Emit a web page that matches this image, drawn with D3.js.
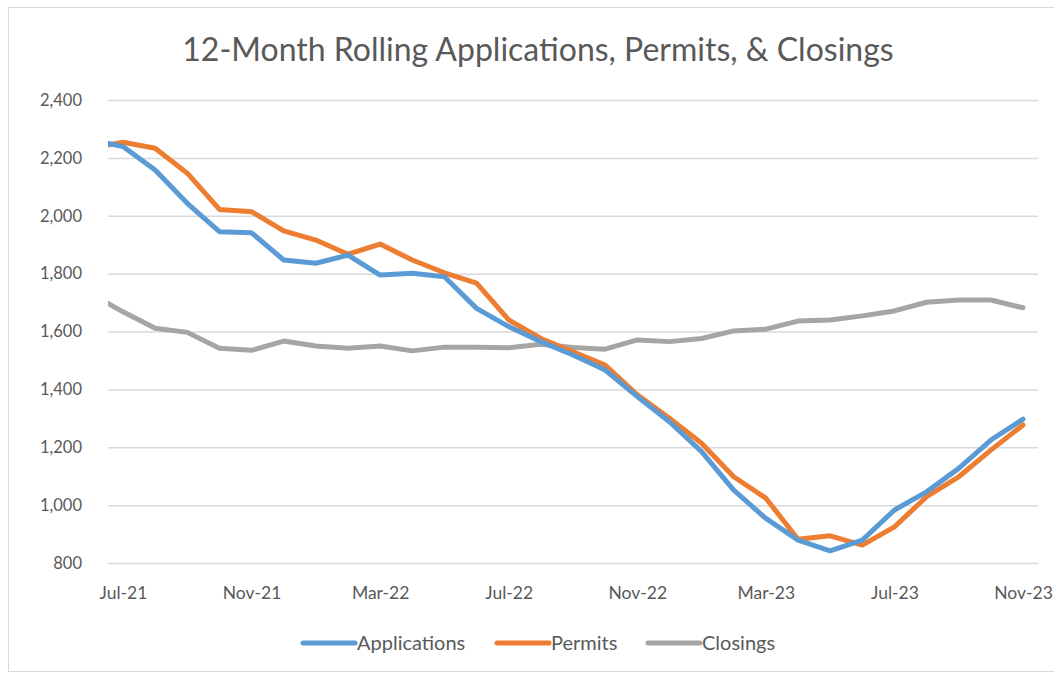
<!DOCTYPE html>
<html>
<head>
<meta charset="utf-8">
<script src="https://cdn.jsdelivr.net/npm/d3@7"></script>
<style>
  body { margin: 0; background: #fff; }
  svg { display: block; font-family: Lato, "Open Sans", sans-serif; }
</style>
</head>
<body>
<svg></svg>
<script>
var width = 1054;
var height = 677;

// months, Jun-21 sits just left of the plot edge and gets clipped
var months = ["Jun-21", "Jul-21", "Aug-21", "Sep-21", "Oct-21", "Nov-21", "Dec-21",
    "Jan-22", "Feb-22", "Mar-22", "Apr-22", "May-22", "Jun-22", "Jul-22", "Aug-22",
    "Sep-22", "Oct-22", "Nov-22", "Dec-22", "Jan-23", "Feb-23", "Mar-23", "Apr-23",
    "May-23", "Jun-23", "Jul-23", "Aug-23", "Sep-23", "Oct-23", "Nov-23"];
var applications = [2263, 2239, 2158, 2043, 1945, 1941, 1847, 1836, 1864, 1795,
    1801, 1789, 1680, 1617, 1565, 1519, 1467, 1375, 1288, 1185,
    1052, 954, 879, 842, 879, 983, 1046, 1127, 1225, 1297];
var permits = [2234, 2254, 2233, 2147, 2022, 2014, 1948, 1916, 1867, 1902,
    1847, 1803, 1767, 1640, 1576, 1530, 1484, 1381, 1300, 1214,
    1098, 1024, 882, 894, 862, 925, 1029, 1098, 1190, 1277];
var closings = [1730, 1668, 1611, 1597, 1542, 1535, 1567, 1550, 1542, 1550,
    1533, 1546, 1546, 1544, 1556, 1545, 1539, 1571, 1565, 1576,
    1602, 1608, 1636, 1640, 1654, 1671, 1701, 1709, 1709, 1682];
var tickLabels = ["Jul-21", "Nov-21", "Mar-22", "Jul-22", "Nov-22", "Mar-23", "Jul-23", "Nov-23"];
var yTicks = [800, 1000, 1200, 1400, 1600, 1800, 2000, 2200, 2400];

var series = [
    { name: "Applications", values: applications, color: "#5B9BD5" },
    { name: "Permits", values: permits, color: "#ED7D31" },
    { name: "Closings", values: closings, color: "#A5A5A5" }
];

var plot = { left: 108, right: 1038, top: 100, bottom: 563 };

const svg = d3.select('svg')
    .attr('width', width)
    .attr('height', height);

// chart frame
svg.append("rect")
    .attr("x", 8.5).attr("y", 7.5)
    .attr("width", 1060).attr("height", 664)
    .attr("fill", "#fff")
    .attr("stroke", "#D9D9D9");

svg.append("text")
    .attr("x", 538).attr("y", 61)
    .attr("text-anchor", "middle")
    .attr("font-size", 32)
    .attr("fill", "#595959")
    .text("12-Month Rolling Applications, Permits, & Closings");

const x = d3.scaleLinear()
    .domain([months.indexOf("Jul-21"), months.indexOf("Nov-23")])
    .range([123, 1023]);
const y = d3.scaleLinear()
    .domain([800, 2400])
    .range([plot.bottom, plot.top]);

// gridlines + y labels
const yAxis = d3.axisLeft(y)
    .tickValues(yTicks)
    .tickSize(-(plot.right - plot.left))
    .tickPadding(26)
    .tickFormat(d3.format(","));
const gy = svg.append("g")
    .attr("transform", `translate(${plot.left},0)`)
    .call(yAxis);
gy.select(".domain").remove();
gy.selectAll(".tick line").attr("stroke", "#D9D9D9").attr("stroke-width", 1.5);
gy.selectAll(".tick text")
    .attr("font-size", 16.5)
    .attr("fill", "#595959")
    .attr("font-family", "Lato, 'Open Sans', sans-serif");

// x labels
const xAxis = d3.axisBottom(x)
    .tickValues(tickLabels.map(m => months.indexOf(m)))
    .tickSize(0)
    .tickPadding(24)
    .tickFormat(i => months[i]);
const gx = svg.append("g")
    .attr("transform", `translate(0,${plot.bottom})`)
    .call(xAxis);
gx.select(".domain").remove();
gx.selectAll(".tick text")
    .attr("font-size", 17.5)
    .attr("fill", "#595959")
    .attr("font-family", "Lato, 'Open Sans', sans-serif");

svg.append("clipPath").attr("id", "plotclip")
    .append("rect")
    .attr("x", plot.left).attr("y", 0)
    .attr("width", plot.right - plot.left).attr("height", height);

const line = d3.line()
    .x((d, i) => x(i))
    .y(d => y(d));

svg.append("g")
    .attr("clip-path", "url(#plotclip)")
    .selectAll("path")
    .data(series.slice().reverse())
    .join("path")
    .attr("d", d => line(d.values))
    .attr("fill", "none")
    .attr("stroke", d => d.color)
    .attr("stroke-width", 5)
    .attr("stroke-linejoin", "round")
    .attr("stroke-linecap", "round");

// legend
var legendX = [303, 497, 648];
const legend = svg.append("g")
    .selectAll("g")
    .data(series)
    .join("g")
    .attr("transform", (d, i) => `translate(${legendX[i]},643)`);
legend.append("line")
    .attr("x1", 0).attr("x2", 52)
    .attr("stroke", d => d.color)
    .attr("stroke-width", 5)
    .attr("stroke-linecap", "round");
legend.append("text")
    .attr("x", 54).attr("y", 7)
    .attr("font-size", 20)
    .attr("fill", "#595959")
    .text(d => d.name);
</script>
</body>
</html>
